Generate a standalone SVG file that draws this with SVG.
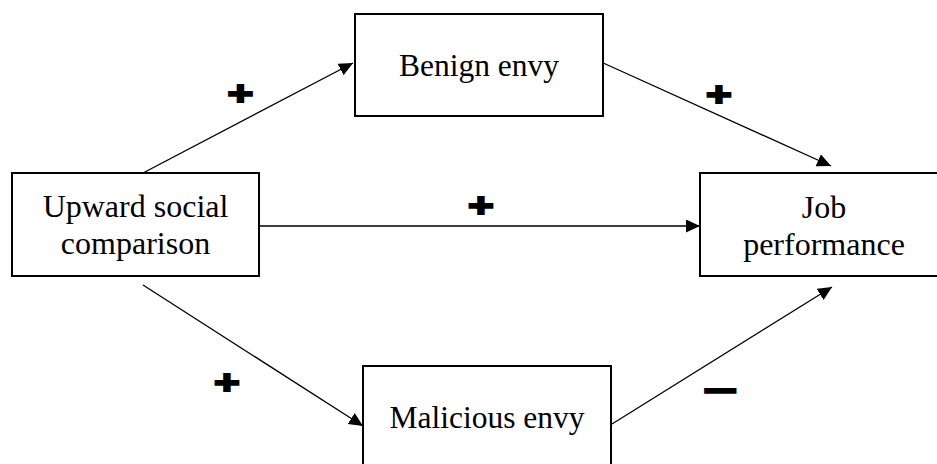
<svg xmlns="http://www.w3.org/2000/svg" width="937" height="464" viewBox="0 0 937 464">
<style>
.box{fill:#fff;stroke:#000;stroke-width:2}
.lbl{font-family:"Liberation Serif","Times New Roman",serif;font-size:31.5px;fill:#000;text-anchor:middle}
.big{font-size:32px}
.sign{font-family:"Liberation Sans",Arial,sans-serif;font-weight:bold;font-size:34px;fill:#000;stroke:#000;stroke-width:2;text-anchor:middle}
.edge{stroke:#000;stroke-width:1.3;fill:none;marker-end:url(#ah)}
</style>
<defs>
<marker id="ah" markerUnits="userSpaceOnUse" markerWidth="15" markerHeight="14" refX="14" refY="6.5" orient="auto">
<path d="M0,0 L14,6.5 L0,13 Z" fill="#000"/>
</marker>
</defs>
<rect width="937" height="464" fill="#fff"/>
<g id="connectors">
<line class="edge" x1="143" y1="173" x2="353" y2="63"/>
<line class="edge" x1="601" y1="62" x2="831" y2="166"/>
<line class="edge" x1="259" y1="226" x2="700" y2="226"/>
<line class="edge" x1="143" y1="285" x2="363" y2="426"/>
<line class="edge" x1="612" y1="424" x2="832" y2="287"/>
</g>
<g id="benign">
<rect class="box" x="355" y="14" width="248" height="102"/>
<text class="lbl" x="479" y="76">Benign envy</text>
</g>
<g id="upward">
<rect class="box" x="12" y="173" width="247" height="103"/>
<text class="lbl big" x="135.5" y="217">Upward social</text>
<text class="lbl big" x="135.5" y="254">comparison</text>
</g>
<g id="job">
<rect class="box" x="700" y="173" width="250" height="103"/>
<text class="lbl big" x="824" y="218">Job</text>
<text class="lbl big" x="824" y="255">performance</text>
</g>
<g id="malicious">
<rect class="box" x="363" y="366" width="248" height="104"/>
<text class="lbl" x="487" y="428">Malicious envy</text>
</g>
<g id="signs">
<text class="sign" transform="translate(240.5,105) scale(1.3,1)">+</text>
<text class="sign" transform="translate(719,105.5) scale(1.3,1)">+</text>
<text class="sign" transform="translate(481,217) scale(1.3,1)">+</text>
<text class="sign" transform="translate(227,393.5) scale(1.3,1)">+</text>
<text class="sign" transform="translate(720.5,401.5) scale(1.7,1)">−</text>
</g>
</svg>
